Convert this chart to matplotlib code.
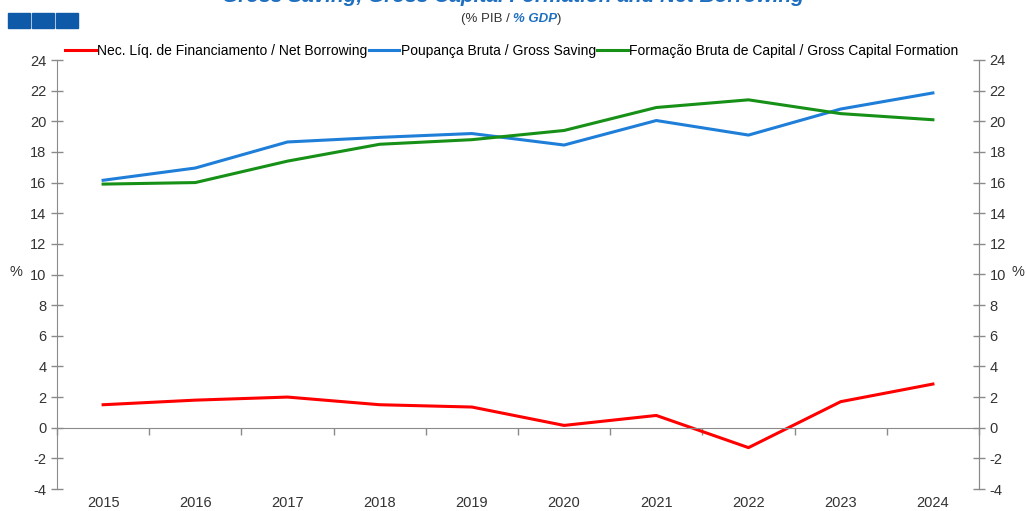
import numpy as np
import matplotlib.pyplot as plt
from matplotlib.patches import Rectangle
import matplotlib.transforms as mtransforms

# Dados (% PIB)
anos = [2015, 2016, 2017, 2018, 2019, 2020, 2021, 2022, 2023, 2024]
net_borrowing = [1.5, 1.8, 2.0, 1.5, 1.35, 0.15, 0.8, -1.3, 1.7, 2.85]
gross_saving = [16.15, 16.95, 18.65, 18.95, 19.2, 18.45, 20.05, 19.1, 20.8, 21.85]
gross_capital = [15.9, 16.0, 17.4, 18.5, 18.8, 19.4, 20.9, 21.4, 20.5, 20.1]

nomes = ['Nec. Líq. de Financiamento / Net Borrowing',
         'Poupança Bruta / Gross Saving',
         'Formação Bruta de Capital / Gross Capital Formation']
cores = ['#ff0000', '#1f7fd8', '#169016']

plt.rcParams['font.family'] = ['Liberation Sans', 'DejaVu Sans']
plt.rcParams['axes.unicode_minus'] = False
cinza = '#333333'
eixo = '#8a8a8a'

fig = plt.figure(figsize=(10.26, 5.11), dpi=100, facecolor='white')
ax = fig.add_axes([57 / 1026, 1 - 489 / 511, 922 / 1026, 429 / 511])

x = np.arange(len(anos))
for serie, nome, cor in zip([net_borrowing, gross_saving, gross_capital], nomes, cores):
    ax.plot(x, serie, color=cor, lw=2.2, label=nome)

ax.set_xlim(-0.5, len(anos) - 0.5)
ax.set_ylim(-4, 24)
ax.set_yticks(np.arange(-4, 25, 2))
ax.tick_params(axis='y', direction='inout', length=8, color=eixo, labelsize=10.5,
               labelcolor=cinza, width=1)

# eixo x sobre o zero, marcas entre as categorias
ax.spines['bottom'].set_position(('data', 0))
ax.spines['bottom'].set_color(eixo)
ax.set_xticks(np.arange(-0.5, len(anos), 1))
ax.set_xticklabels([])
ax.tick_params(axis='x', direction='out', length=5, color=eixo, width=1)
ax.spines['top'].set_visible(False)
for s in ['left', 'right']:
    ax.spines[s].set_color(eixo)

trans = mtransforms.blended_transform_factory(ax.transData, ax.transAxes)
for i, a in enumerate(anos):
    ax.text(i, -14 / 429, str(a), transform=trans, ha='center', va='center',
            fontsize=10.5, color=cinza)

ax2 = ax.twinx()
ax2.set_ylim(-4, 24)
ax2.set_yticks(np.arange(-4, 25, 2))
ax2.tick_params(axis='y', direction='inout', length=8, color=eixo, labelsize=10.5,
                labelcolor=cinza, width=1)
for s in ['top', 'left', 'bottom']:
    ax2.spines[s].set_visible(False)
ax2.spines['right'].set_color(eixo)

fig.text(16 / 1026, 1 - 272 / 511, '%', ha='center', va='center', fontsize=10.5, color=cinza)
fig.text(1018 / 1026, 1 - 272 / 511, '%', ha='center', va='center', fontsize=10.5, color=cinza)

# legenda
leg = ax.legend(loc='lower left', bbox_to_anchor=(8 / 922, 1.005), ncol=3, frameon=False,
                handlelength=2.2, handletextpad=0.1, columnspacing=0.1,
                borderaxespad=0, borderpad=0, prop={'size': 10})

# título (cortado no topo) e subtítulo
fig.text(0.5, 1 - (-3) / 511, 'Gross Saving, Gross Capital Formation and Net Borrowing',
         ha='center', va='center', fontsize=15, color='#1f6fc0', fontweight='bold',
         style='italic')
yy = 1 - 19 / 511
t1 = fig.text(0.5, yy, '(% PIB / ', ha='right', va='center', fontsize=9.5, color=cinza)
t2 = fig.text(0.5, yy, '% GDP', ha='left', va='center', fontsize=9.5,
              color='#1f6fc0', fontweight='bold', style='italic')
r = fig.canvas.get_renderer()
bb = t2.get_window_extent(renderer=r)
fig.text(bb.x1 / fig.bbox.width, yy, ')', ha='left', va='center', fontsize=9.5, color=cinza)

# quadrados azuis
for k in range(3):
    fig.patches.append(Rectangle(((8 + k * 24) / 1026, 1 - 28 / 511), 22 / 1026, 15 / 511,
                                 transform=fig.transFigure, color='#0f5aa8'))

fig.savefig('out.png', dpi=100, facecolor='white')
